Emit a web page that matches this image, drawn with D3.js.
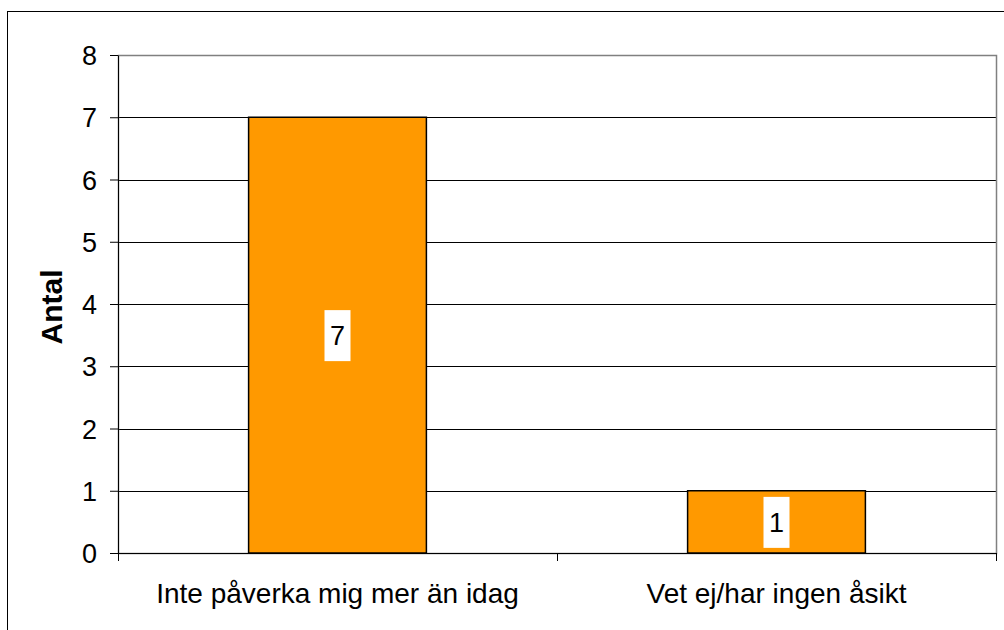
<!DOCTYPE html>
<html>
<head>
<meta charset="utf-8">
<script src="https://cdn.jsdelivr.net/npm/d3@7"></script>
<style>
  body { margin: 0; background: #fff; }
  svg { display: block; font-family: "Liberation Sans", Arial, sans-serif; }
</style>
</head>
<body>
<svg id="chart" width="1004" height="630"></svg>
<script>
// chart data
var categories = ["Inte påverka mig mer än idag", "Vet ej/har ingen åsikt"];
var counts = [7, 1];
var yTicks = [0, 1, 2, 3, 4, 5, 6, 7, 8];
var yTitle = "Antal";

var svg = d3.select("#chart");

// outer chart border (runs off the right and bottom edges)
svg.append("rect")
    .attr("x", 7.5).attr("y", 11.5)
    .attr("width", 1010).attr("height", 640)
    .attr("fill", "none").attr("stroke", "#000").attr("stroke-width", 1);

var margin = {top: 55, right: 8, bottom: 77, left: 118},
    width = 1004 - margin.left - margin.right,
    height = 630 - margin.top - margin.bottom;

var g = svg.append("g").attr("transform", "translate(" + margin.left + "," + margin.top + ")");

var x = d3.scaleBand().domain(categories).range([0, width]).paddingInner(0).paddingOuter(0);
var y = d3.scaleLinear().domain([0, 8]).range([height, 0]);

// gridlines
g.selectAll("line.grid")
    .data(yTicks.filter(function (d) { return d > 0 && d < 8; }))
    .enter().append("line")
    .attr("class", "grid")
    .attr("x1", 0).attr("x2", width)
    .attr("y1", function (d) { return Math.round(y(d)) + 0.5; })
    .attr("y2", function (d) { return Math.round(y(d)) + 0.5; })
    .attr("stroke", "#000").attr("stroke-width", 1);

// plot area border
g.append("rect")
    .attr("x", 0.5).attr("y", 0.5)
    .attr("width", width).attr("height", height)
    .attr("fill", "none").attr("stroke", "#808080").attr("stroke-width", 1.5);

// bars
var barW = x.bandwidth() * 0.405;
g.selectAll("rect.bar")
    .data(counts)
    .enter().append("rect")
    .attr("class", "bar")
    .attr("x", function (d, i) { return x(categories[i]) + (x.bandwidth() - barW) / 2; })
    .attr("y", function (d) { return y(d); })
    .attr("width", barW)
    .attr("height", function (d) { return height - y(d); })
    .attr("fill", "#FF9900")
    .attr("stroke", "#000").attr("stroke-width", 1.5);

// y axis
var yAxis = g.append("g")
    .call(d3.axisLeft(y).tickValues(yTicks).tickSize(8).tickPadding(13).tickFormat(d3.format("d")));
yAxis.select(".domain").attr("stroke", "#000").attr("d", "M0.5," + (height + 8) + "V0.5");
yAxis.selectAll(".tick line").attr("stroke", "#000");
yAxis.selectAll(".tick text")
    .attr("fill", "#000")
    .style("font-size", "27px")
    .attr("dy", "0.36em");

// x axis
var xAxis = g.append("g")
    .attr("transform", "translate(0," + height + ")")
    .call(d3.axisBottom(x).tickSize(0).tickPadding(30));
xAxis.select(".domain").attr("stroke", "#000").attr("d", "M0," + 0.5 + "H" + width);
xAxis.selectAll(".tick text")
    .attr("fill", "#000")
    .style("font-size", "28px");

// x tick marks at band edges
g.selectAll("line.xtick")
    .data([0, 1, 2])
    .enter().append("line")
    .attr("class", "xtick")
    .attr("x1", function (d) { return Math.round(d * x.bandwidth()) + 0.5; })
    .attr("x2", function (d) { return Math.round(d * x.bandwidth()) + 0.5; })
    .attr("y1", height)
    .attr("y2", height + 8)
    .attr("stroke", "#000");

// value labels with white boxes
var labels = g.selectAll("g.vlabel")
    .data(counts)
    .enter().append("g")
    .attr("class", "vlabel")
    .attr("transform", function (d, i) {
        return "translate(" + (x(categories[i]) + x.bandwidth() / 2) + "," + ((y(d) + height) / 2) + ")";
    });
labels.append("rect")
    .attr("x", -13).attr("y", -25)
    .attr("width", 26).attr("height", 51)
    .attr("fill", "#fff");
labels.append("text")
    .attr("text-anchor", "middle")
    .attr("dy", "0.36em")
    .style("font-size", "27px")
    .text(function (d) { return d; });

// y axis title
svg.append("text")
    .attr("transform", "translate(62,307) rotate(-90)")
    .attr("text-anchor", "middle")
    .style("font-size", "30px")
    .style("font-weight", "bold")
    .text(yTitle);
</script>
</body>
</html>
